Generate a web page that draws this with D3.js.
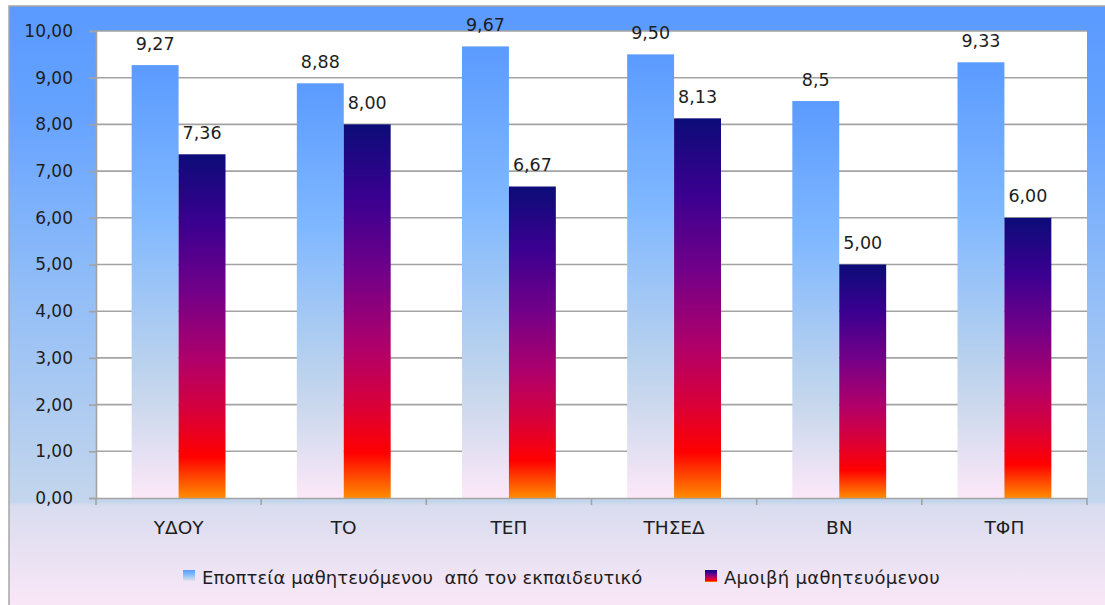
<!DOCTYPE html>
<html><head><meta charset="utf-8">
<script src="https://cdn.jsdelivr.net/npm/d3@7"></script>
<style>html,body{margin:0;padding:0;background:#fff;}svg{display:block;}</style>
</head><body>
<script>
const categories = ["ΥΔΟΥ","ΤΟ","ΤΕΠ","ΤΗΣΕΔ","ΒΝ","ΤΦΠ"];
const seriesNames = ["Εποπτεία μαθητευόμενου  από τον εκπαιδευτικό","Αμοιβή μαθητευόμενου"];
const supervision = [9.27, 8.88, 9.67, 9.50, 8.5, 9.33];
const supervisionLabels = ["9,27","8,88","9,67","9,50","8,5","9,33"];
const reward = [7.36, 8.00, 6.67, 8.13, 5.00, 6.00];
const rewardLabels = ["7,36","8,00","6,67","8,13","5,00","6,00"];
const yTicks = [0,1,2,3,4,5,6,7,8,9,10];

const W = 1105, H = 605;
const plot = {left:96, right:1087, top:31, bottom:498};
const FONT = "DejaVu Sans";

const svg = d3.select("body").append("svg").attr("width", W).attr("height", H);
const defs = svg.append("defs");

function grad(id, stops){
  const g = defs.append("linearGradient").attr("id", id).attr("x1",0).attr("y1",0).attr("x2",0).attr("y2",1);
  stops.forEach(([o,c])=>g.append("stop").attr("offset",o).attr("stop-color",c));
}
grad("bg", [[0,"#5a9aff"],[0.18,"#66a3ff"],[0.45,"#8fbcf8"],[0.82,"#c4d6ec"],[0.825,"#d9dcef"],[1,"#fbe8f7"]]);
grad("lightBar", [[0,"#5b9bff"],[0.35,"#80b8ff"],[0.68,"#b8d1ee"],[0.78,"#cad8ed"],[1,"#fce8f8"]]);
grad("darkBar", [[0,"#0c0c78"],[0.2,"#3a0090"],[0.4,"#720088"],[0.6,"#b0006a"],[0.75,"#d8003a"],[0.88,"#ff0000"],[1,"#ff8c00"]]);

// chart background
svg.append("rect").attr("x",9).attr("y",6).attr("width",W).attr("height",H)
  .attr("fill","url(#bg)").attr("stroke","#a6a6a6").attr("stroke-width",1.5);

// plot area
svg.append("rect").attr("x",plot.left).attr("y",plot.top)
  .attr("width",plot.right-plot.left).attr("height",plot.bottom-plot.top).attr("fill","#ffffff");

const x0 = d3.scaleBand().domain(categories).range([plot.left, plot.right]).paddingInner(0).paddingOuter(0);
const x1 = d3.scaleBand().domain([0,1]).range([0, x0.bandwidth()]).paddingInner(0).paddingOuter(0.76);
const y = d3.scaleLinear().domain([0,10]).range([plot.bottom, plot.top]);
const fmt = v => d3.format(".2f")(v).replace(".", ",");

// gridlines
svg.append("g").selectAll("line").data(yTicks.filter(t=>t>0)).join("line")
  .attr("x1",plot.left).attr("x2",plot.right).attr("y1",d=>y(d)).attr("y2",d=>y(d))
  .attr("stroke","#a3a3a3").attr("stroke-width",1.6);

// bars
const series = [
  {vals:supervision, labels:supervisionLabels, fill:"url(#lightBar)"},
  {vals:reward, labels:rewardLabels, fill:"url(#darkBar)"}
];
series.forEach((s,si)=>{
  const g = svg.append("g");
  g.selectAll("rect").data(categories).join("rect")
    .attr("x",(c)=>x0(c)+x1(si)).attr("width",x1.bandwidth())
    .attr("y",(c,i)=>y(s.vals[i])).attr("height",(c,i)=>y(0)-y(s.vals[i]))
    .attr("fill",s.fill);
  g.selectAll("text").data(categories).join("text")
    .attr("x",(c)=>x0(c)+x1(si)+x1.bandwidth()/2)
    .attr("y",(c,i)=>y(s.vals[i])-15.5)
    .attr("text-anchor","middle").attr("font-family",FONT).attr("font-size",17.5)
    .attr("fill","#1e1e1e").text((c,i)=>s.labels[i]);
});

// y axis
const yAxis = d3.axisLeft(y).tickValues(yTicks).tickFormat(fmt).tickSize(7).tickPadding(16);
const gy = svg.append("g").attr("transform",`translate(${plot.left},0)`).call(yAxis);
gy.select(".domain").attr("stroke","#a3a3a3").attr("stroke-width",1.6);
gy.selectAll(".tick line").attr("stroke","#a3a3a3").attr("stroke-width",1.6);
gy.selectAll(".tick text").attr("font-family",FONT).attr("font-size",17).attr("fill","#1e1e1e");

// x axis
const xAxis = d3.axisBottom(x0).tickSize(0).tickPadding(23);
const gx = svg.append("g").attr("transform",`translate(0,${plot.bottom})`).call(xAxis);
gx.select(".domain").attr("stroke","#a3a3a3").attr("stroke-width",1.6);
gx.selectAll(".tick text").attr("font-family",FONT).attr("font-size",18.5).attr("fill","#1e1e1e");
// category boundary ticks
const bounds = categories.map(c=>x0(c)).concat([plot.right]);
gx.append("g").selectAll("line").data(bounds).join("line")
  .attr("x1",d=>d).attr("x2",d=>d).attr("y1",0).attr("y2",7)
  .attr("stroke","#a3a3a3").attr("stroke-width",1.6);

// legend
const legend = svg.append("g");
const legendItems = [
  {name:seriesNames[0], fill:"url(#lightBar)", x:183, ls:0.1},
  {name:seriesNames[1], fill:"url(#darkBar)", x:705, ls:0.3}
];
legendItems.forEach(it=>{
  legend.append("rect").attr("x",it.x).attr("y",570).attr("width",12).attr("height",12).attr("fill",it.fill);
  legend.append("text").attr("x",it.x+19).attr("y",584).attr("font-family",FONT).attr("font-size",18)
    .attr("letter-spacing",it.ls).attr("xml:space","preserve").style("white-space","pre")
    .attr("fill","#1e1e1e").text(it.name);
});
</script>
</body></html>
